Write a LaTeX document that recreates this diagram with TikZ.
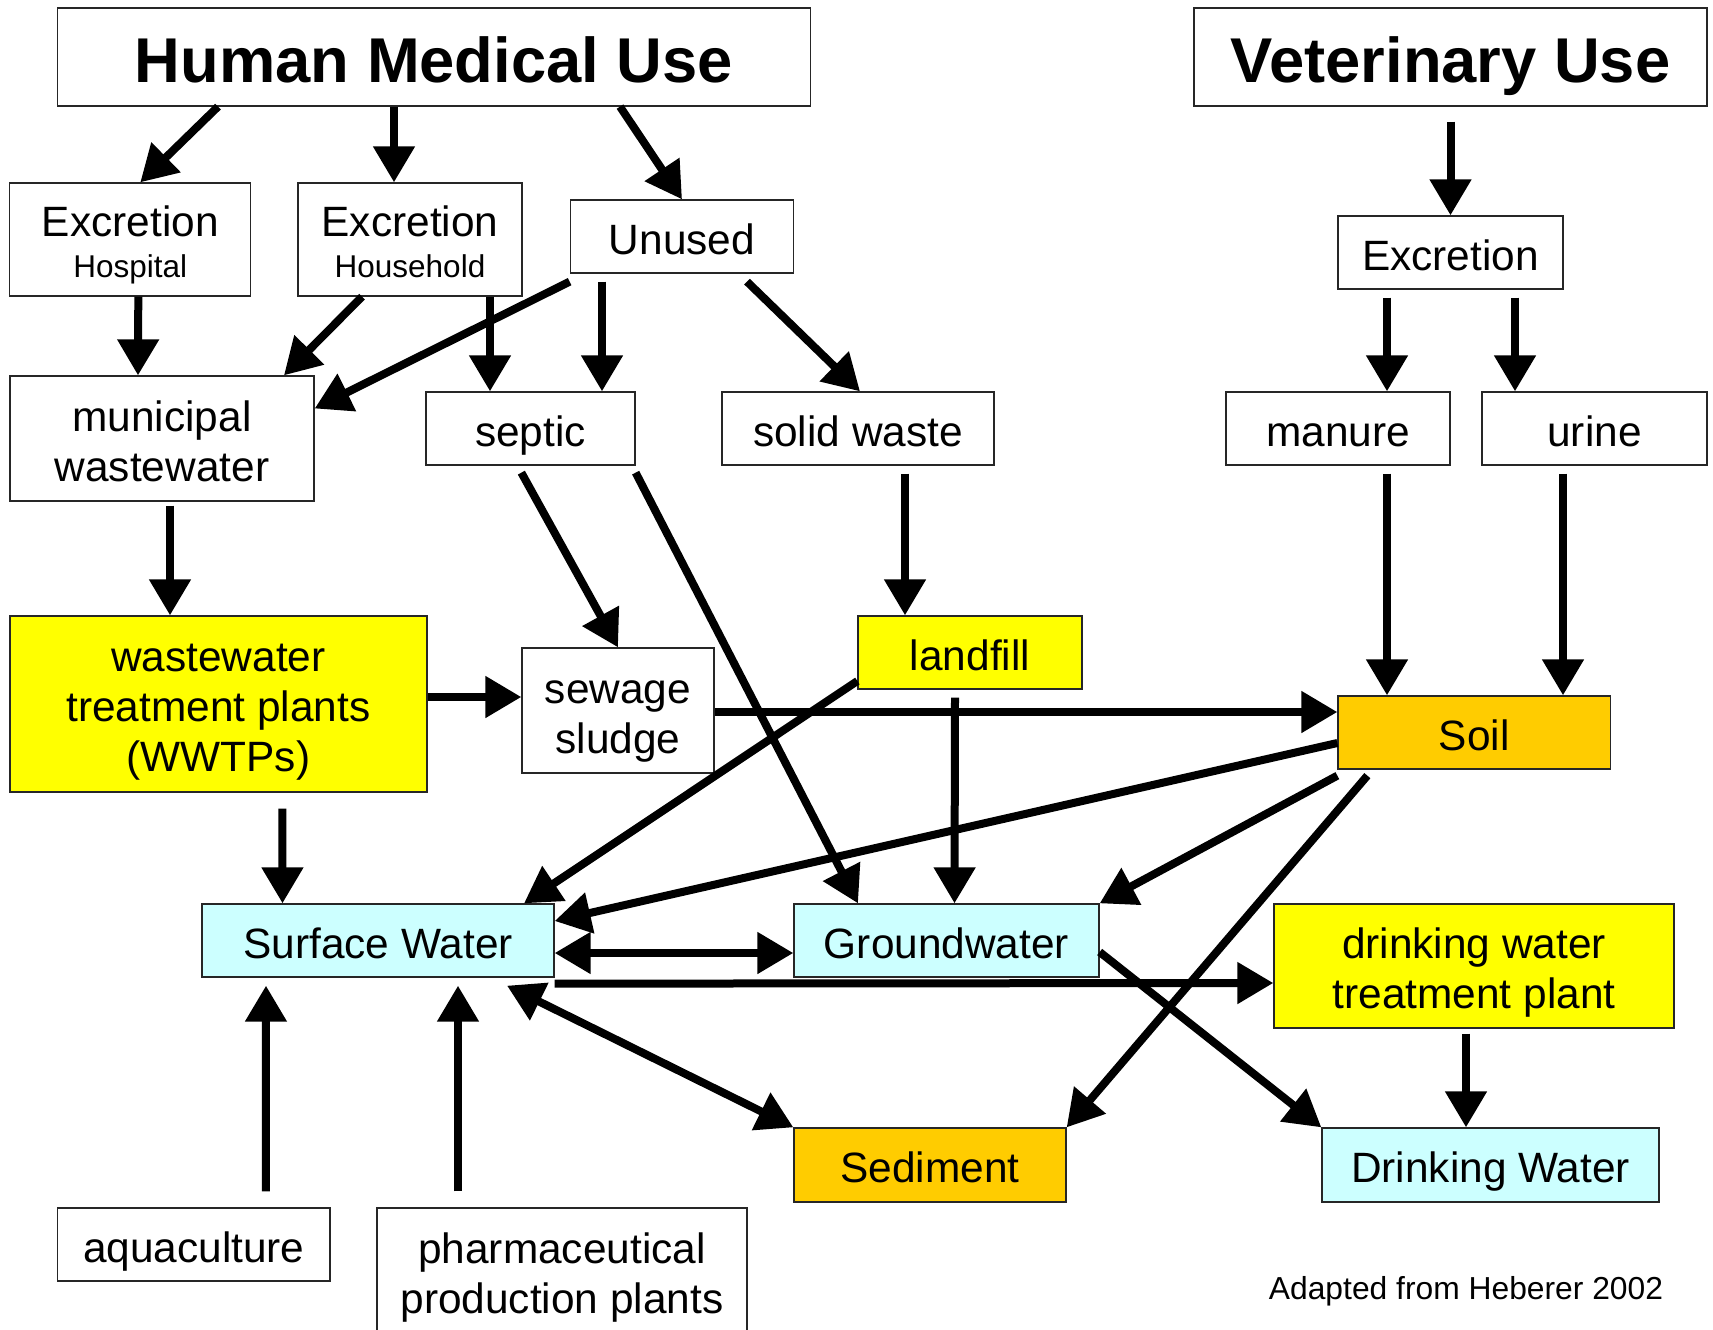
\documentclass[tikz,border=0pt]{standalone}
\usepackage{fontspec}
\setmainfont{Liberation Sans}
\usetikzlibrary{arrows.meta}
\definecolor{plantyellow}{HTML}{FFFF00}
\definecolor{soilorange}{HTML}{FFCC00}
\definecolor{watercyan}{HTML}{CCFFFF}
\newcommand{\smalltxt}{\fontsize{31.5}{38}\selectfont}
\newcommand{\boxstrut}{\rule[-5pt]{0pt}{45pt}}
\tikzset{
    box/.style={draw=black!85, line width=1.3pt, fill=white, inner sep=0pt, align=center,
        font=\fontsize{42.4}{50}\selectfont, text depth=5pt},
    one/.style={box, text height=40pt},
    title/.style={box, font=\fontsize{63.3}{70}\selectfont\bfseries, text height=58pt, text depth=8pt},
    arr/.style={-{Triangle[length=36pt,width=40pt]}, line width=8pt},
    dblarr/.style={{Triangle[length=36pt,width=40pt]}-{Triangle[length=36pt,width=40pt]}, line width=8pt},
}
\begin{document}
\begin{tikzpicture}[x=1pt,y=-1pt]
        \fill[white] (0,0) rectangle (1713,1330);
        \clip (0,0) rectangle (1713,1330);
        % sources
        \node[title, minimum width=753pt, minimum height=98pt] (hmu) at (434,57) {Human Medical Use};
        \node[title, minimum width=513pt, minimum height=98pt] (vet) at (1450.5,57) {Veterinary Use};
        \node[box, minimum width=241pt, minimum height=113pt] (exhosp) at (130.3,239.5) {\boxstrut Excretion\\[-9pt]{\smalltxt Hospital}};
        \node[box, minimum width=224pt, minimum height=113pt] (exhouse) at (410,239.5) {\boxstrut Excretion\\[-9pt]{\smalltxt Household}};
        \node[one, minimum width=223.5pt, minimum height=73pt] (unused) at (682,236.5) {Unused};
        \node[one, minimum width=225pt, minimum height=73pt] (exvet) at (1450.5,252.5) {Excretion};
        % pathways
        \node[box, minimum width=304pt, minimum height=125pt] (municipal) at (162,438.5) {\boxstrut municipal\\wastewater};
        \node[one, minimum width=209pt, minimum height=73pt] (septic) at (530.5,428.5) {septic};
        \node[one, minimum width=272pt, minimum height=73pt] (solid) at (858,428.5) {solid waste};
        \node[one, minimum width=224pt, minimum height=73pt] (manure) at (1338,428.5) {manure};
        \node[one, minimum width=225pt, minimum height=73pt] (urine) at (1594.5,428.5) {urine};
        \node[box, fill=plantyellow, minimum width=417pt, minimum height=176pt] (wwtp) at (218.4,704) {\boxstrut wastewater\\treatment plants\\(WWTPs)};
        \node[box, minimum width=192pt, minimum height=125pt] (sludge) at (618,710.5) {\boxstrut sewage\\sludge};
        \node[one, fill=plantyellow, minimum width=224pt, minimum height=73pt] (landfill) at (970,652.5) {landfill};
        \node[one, fill=soilorange, minimum width=272.6pt, minimum height=73pt] (soil) at (1474.3,732.5) {Soil};
        % receiving compartments
        \node[one, fill=watercyan, minimum width=352pt, minimum height=73pt] (surface) at (378,940.5) {Surface Water};
        \node[one, fill=watercyan, minimum width=305pt, minimum height=73pt] (ground) at (946.5,940.5) {Groundwater};
        \node[box, fill=plantyellow, minimum width=400pt, minimum height=124pt] (dwtp) at (1474,966) {\boxstrut drinking water\\treatment plant};
        \node[one, fill=soilorange, minimum width=272pt, minimum height=74pt] (sediment) at (930,1165) {Sediment};
        \node[one, fill=watercyan, minimum width=337pt, minimum height=74pt] (drinking) at (1490.5,1165) {Drinking Water};
        \node[one, minimum width=272.4pt, minimum height=73pt] (aqua) at (193.8,1244.5) {aquaculture};
        \node[box, minimum width=370pt, minimum height=125pt] (pharma) at (562,1270.5) {\boxstrut pharmaceutical\\production plants};
        \node[font=\fontsize{31.8}{38}\selectfont, inner sep=0pt] (credit) at (1466,1291) {Adapted from Heberer 2002};
        % human use
        \draw[arr] ([xshift=-216]hmu.south) -- ([xshift=10]exhosp.north);
        \draw[arr] ([xshift=-40]hmu.south) -- ([xshift=-16]exhouse.north);
        \draw[arr] ([xshift=186]hmu.south) -- (unused.north);
        \draw[arr] ([xshift=8]exhosp.south) -- ([xshift=-24]municipal.north);
        \draw[arr] ([xshift=-48]exhouse.south) -- ([xshift=122]municipal.north);
        \draw[arr] ([yshift=-8]unused.south west) -- ([yshift=30]municipal.east);
        \draw[arr] ([xshift=80]exhouse.south) -- ([xshift=-40.5]septic.north);
        \draw[arr] ([xshift=-80,yshift=-8]unused.south) -- ([xshift=71.5]septic.north);
        \draw[arr] ([xshift=65,yshift=-8]unused.south) -- ([xshift=2]solid.north);
        % veterinary use
        \draw[arr] ([yshift=-15]vet.south) -- (exvet.north);
        \draw[arr] ([xshift=-63.5,yshift=-8]exvet.south) -- ([xshift=49]manure.north);
        \draw[arr] ([xshift=64.5,yshift=-8]exvet.south) -- ([xshift=-79.5]urine.north);
        % middle
        \draw[arr] ([xshift=8,yshift=-4]municipal.south) -- ([xshift=-48.4]wwtp.north);
        \draw[arr] ([xshift=96,yshift=-7]septic.south west) -- (sludge.north);
        \draw[arr] ([yshift=-7]septic.south east) -- ([xshift=-88.5]ground.north);
        \draw[arr] ([xshift=47,yshift=-8]solid.south) -- ([xshift=-65]landfill.north);
        \draw[arr] ([xshift=49,yshift=-8]manure.south) -- ([xshift=-87.3]soil.north);
        \draw[arr] ([xshift=-31.5,yshift=-8]urine.south) -- ([xshift=88.7]soil.north);
        \draw[arr] ([yshift=7]wwtp.east) -- ([yshift=13.5]sludge.west);
        \draw[arr] ([yshift=-1.5]sludge.east) -- ([yshift=20.5]soil.west);
        \draw[arr] ([yshift=-28.5]landfill.west) -- ([xshift=146]surface.north);
        \draw[arr] ([xshift=-15,yshift=-8]landfill.south) -- ([xshift=8]ground.north);
        \draw[arr] ([yshift=-10.5]soil.west) -- ([yshift=19.5]surface.east);
        \draw[arr] ([yshift=-6]soil.south west) -- (ground.north east);
        \draw[arr] ([xshift=30,yshift=-6]soil.south west) -- (sediment.north east);
        \draw[arr] ([xshift=64,yshift=-16]wwtp.south) -- ([xshift=-95.5]surface.north);
        % water
        \draw[dblarr] ([yshift=-12.5]surface.east) -- ([yshift=-12.5]ground.west);
        \draw[arr] ([yshift=-6]surface.south east) -- ([yshift=-17]dwtp.west);
        \draw[dblarr] ([xshift=129,yshift=-8]surface.south) -- (sediment.north west);
        \draw[arr] ([yshift=-11.5]ground.east) -- (drinking.north west);
        \draw[arr] ([xshift=-8,yshift=-5]dwtp.south) -- ([xshift=-24.5]drinking.north);
        \draw[arr] ([xshift=72,yshift=16]aqua.north) -- ([xshift=-112,yshift=-8]surface.south);
        \draw[arr] ([xshift=-104,yshift=16]pharma.north) -- ([xshift=80,yshift=-8]surface.south);
\end{tikzpicture}
\end{document}
